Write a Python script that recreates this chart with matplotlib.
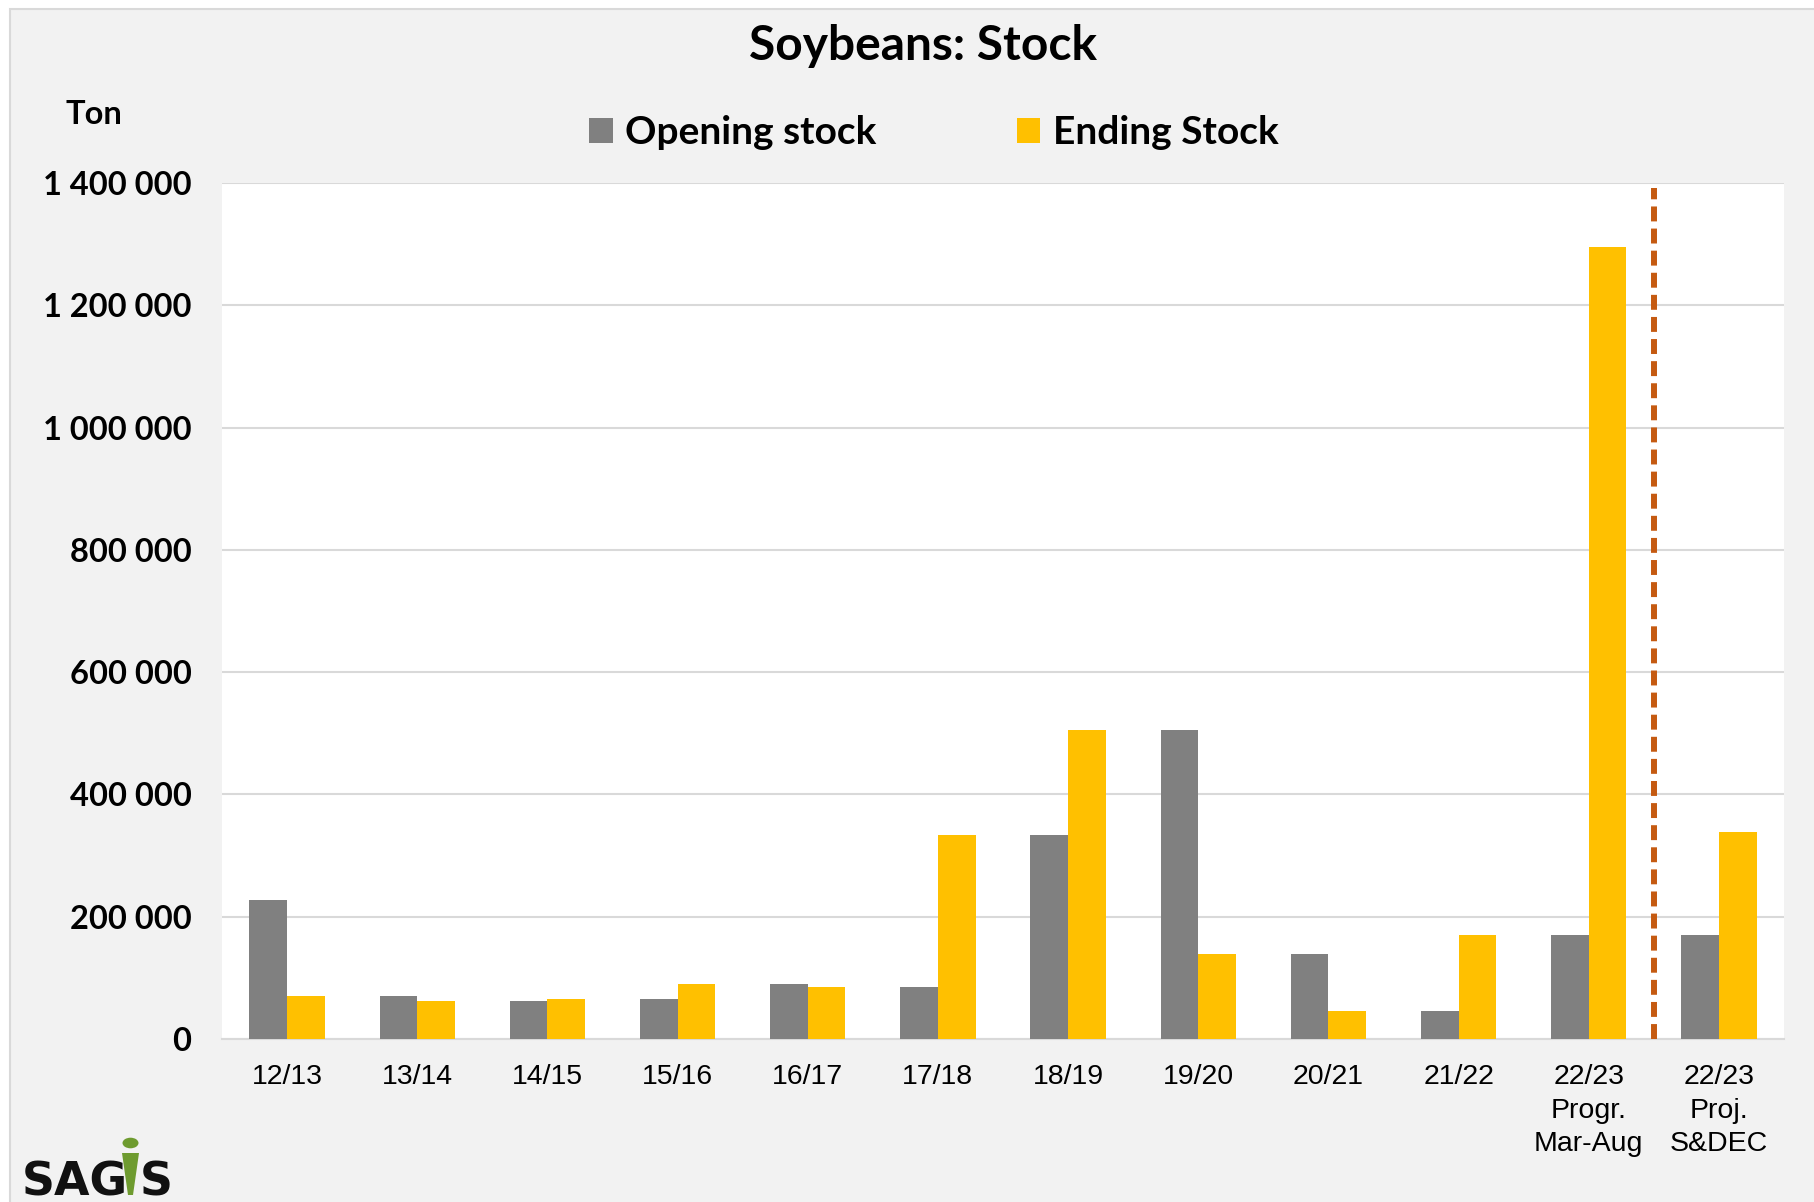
import matplotlib
matplotlib.use('Agg')
import matplotlib.pyplot as plt
import matplotlib.font_manager as fm
import numpy as np
from matplotlib.patches import Rectangle, Polygon, Circle
from matplotlib.ticker import FuncFormatter

# ---- data ----
categories = ['12/13', '13/14', '14/15', '15/16', '16/17', '17/18', '18/19',
              '19/20', '20/21', '21/22', '22/23\nProgr.\nMar-Aug', '22/23\nProj.\nS&DEC']
opening_stock = [228000, 70500, 62800, 65600, 89600, 85200, 334000,
                 504600, 139300, 45900, 170500, 170500]
ending_stock = [70500, 62800, 65600, 89600, 85200, 334000, 504600,
                139300, 45900, 170500, 1295000, 339000]
y_ticks = [0, 200000, 400000, 600000, 800000, 1000000, 1200000, 1400000]
series_names = ['Opening stock', 'Ending Stock']
title = 'Soybeans: Stock'
y_unit = 'Ton'

W, H = 1814, 1202
available = {f.name for f in fm.fontManager.ttflist}
xfont = 'Liberation Sans Narrow' if 'Liberation Sans Narrow' in available else 'Liberation Sans'
bfont = 'Lato'

fig = plt.figure(figsize=(W / 100, H / 100), dpi=100, facecolor='white')
fig.patches.append(Rectangle((10 / W, -0.02), 1.0, 1 - 9 / H + 0.02, transform=fig.transFigure,
                             facecolor='#F2F2F2', edgecolor='#D9D9D9', lw=1.5, zorder=-10))

ax = fig.add_axes([222 / W, 1 - 1039 / H, 1562 / W, 856 / H])
ax.set_facecolor('white')
x = np.arange(len(categories))
w = 0.29
ax.bar(x - w / 2, opening_stock, w, color='#808080', label=series_names[0], zorder=3)
ax.bar(x + w / 2, ending_stock, w, color='#FFC000', label=series_names[1], zorder=3)
ax.set_xlim(-0.5, len(categories) - 0.5)
ax.set_ylim(0, 1400000)
ax.set_yticks(y_ticks)
ax.yaxis.set_major_formatter(FuncFormatter(lambda v, p: f'{int(v):,}'.replace(',', ' ')))
ax.set_xticks(x)
ax.set_xticklabels(categories, fontfamily=xfont, fontsize=20.5, linespacing=1.38)
for lab in ax.get_yticklabels():
    lab.set_fontfamily(bfont)
    lab.set_fontweight('bold')
    lab.set_fontsize(23.5)
ax.tick_params(axis='y', length=0, pad=22)
ax.tick_params(axis='x', length=0, pad=18)
ax.grid(axis='y', color='#D9D9D9', lw=1.5, zorder=0)
ax.set_axisbelow(True)
for s in ['top', 'right', 'left']:
    ax.spines[s].set_visible(False)
ax.spines['bottom'].set_color('#D9D9D9')
ax.spines['bottom'].set_linewidth(1.5)

ax.axvline(10.5, ymin=0, ymax=0.994, color='#C55A11', lw=4.3,
           linestyle=(0, (2.5, 1.2)), zorder=4)

leg = ax.legend(loc='center', bbox_to_anchor=(934 / W, 1 - 132.5 / H), bbox_transform=fig.transFigure,
                ncol=2, frameon=False, prop={'family': bfont, 'weight': 'bold', 'size': 28},
                handlelength=0.6, handleheight=0.6, handletextpad=0.33, columnspacing=3.6)

fig.text(923 / W, 1 - 60 / H, title, ha='center', va='baseline', fontsize=34.5,
         fontweight='bold', family=bfont)
fig.text(66 / W, 1 - 124 / H, y_unit, ha='left', va='baseline', fontsize=23.5,
         fontweight='bold', family=bfont)

# SAGIS logo
fig.text(22 / W, 1 - 1195 / H, 'SAG', ha='left', va='baseline', fontsize=33,
         family='DejaVu Sans', fontweight='bold', color='#111111')
fig.text(140 / W, 1 - 1195 / H, 'S', ha='left', va='baseline', fontsize=33,
         family='DejaVu Sans', fontweight='bold', color='#111111')
fig.patches.append(Polygon([(122 / W, 1 - 1153 / H), (139 / W, 1 - 1153 / H),
                            (133 / W, 1 - 1195 / H), (128 / W, 1 - 1195 / H)],
                           closed=True, transform=fig.transFigure, facecolor='#6E9B2F',
                           edgecolor='none'))
fig.patches.append(Circle((130.5 / W, 1 - 1143 / H), 8 / W, transform=fig.transFigure,
                          facecolor='#6E9B2F', edgecolor='none'))

fig.savefig('out.png', dpi=100, facecolor=fig.get_facecolor())
